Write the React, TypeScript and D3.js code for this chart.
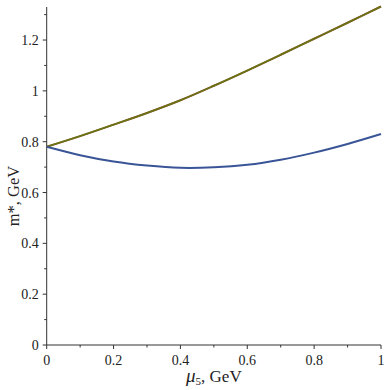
import React from "react";
import * as d3 from "d3";

const width = 390;
const height = 390;

// mu5 values, GeV
const mu5 = [0, 0.1, 0.2, 0.3, 0.4, 0.5, 0.6, 0.7, 0.8, 0.9, 1.0];
// upper branch m*
const upper = [0.78, 0.822, 0.867, 0.913, 0.963, 1.02, 1.08, 1.142, 1.205, 1.268, 1.332];
// lower branch m*
const lower = [0.78, 0.747, 0.722, 0.706, 0.697, 0.699, 0.709, 0.729, 0.757, 0.791, 0.83];

const xTicks = [0, 0.2, 0.4, 0.6, 0.8, 1];
const xMinor = [0.1, 0.3, 0.5, 0.7, 0.9];
const yTicks = [0, 0.2, 0.4, 0.6, 0.8, 1, 1.2];
const yMinor = [0.1, 0.3, 0.5, 0.7, 0.9, 1.1, 1.3];

const margin = { top: 7, right: 9, bottom: 45, left: 46.7 };

const serif = { fontFamily: "'Liberation Serif', 'DejaVu Serif', serif" };

export default function App() {
  const x = d3
    .scaleLinear()
    .domain([0, 1])
    .range([margin.left, width - margin.right]);
  const y = d3
    .scaleLinear()
    .domain([0, 1.33])
    .range([height - margin.bottom, margin.top]);

  const line = (vals: number[]) =>
    d3
      .line<number>()
      .x((d, i) => x(mu5[i]))
      .y((d) => y(d))
      .curve(d3.curveCatmullRom)(vals) || "";

  const axisColor = "#333";

  return (
    <svg
      width={width}
      height={height}
      style={{ position: "absolute", left: 0, top: 0, background: "#fff" }}
    >
      {/* axes */}
      <line x1={x(0)} x2={x(1)} y1={y(0)} y2={y(0)} stroke={axisColor} strokeWidth={1} />
      <line x1={x(0)} x2={x(0)} y1={y(0)} y2={y(1.33)} stroke={axisColor} strokeWidth={1} />

      {xTicks.map((t) => (
        <g key={"x" + t}>
          <line x1={x(t)} x2={x(t)} y1={y(0)} y2={y(0) + 4} stroke={axisColor} />
          <text x={x(t)} y={y(0) + 20} fontSize={14} textAnchor="middle" fill="#222" style={serif}>
            {String(t)}
          </text>
        </g>
      ))}
      {xMinor.map((t) => (
        <line key={"xm" + t} x1={x(t)} x2={x(t)} y1={y(0)} y2={y(0) + 2.5} stroke={axisColor} />
      ))}

      {yTicks.map((t) => (
        <g key={"y" + t}>
          <line x1={x(0) - 4} x2={x(0)} y1={y(t)} y2={y(t)} stroke={axisColor} />
          <text x={x(0) - 8} y={y(t) + 5} fontSize={14} textAnchor="end" fill="#222" style={serif}>
            {String(t)}
          </text>
        </g>
      ))}
      {yMinor.map((t) => (
        <line key={"ym" + t} x1={x(0) - 2.5} x2={x(0)} y1={y(t)} y2={y(t)} stroke={axisColor} />
      ))}

      {/* curves */}
      <path d={line(upper)} fill="none" stroke="#8a3a1e" strokeWidth={2} />
      <path d={line(upper)} fill="none" stroke="#5f8210" strokeWidth={1.6} strokeOpacity={0.85} />
      <path d={line(lower)} fill="none" stroke="#3a5597" strokeWidth={2} />

      {/* axis titles */}
      <text x={x(0.5)} y={382} fontSize={17} textAnchor="middle" fill="#222" style={serif}>
        <tspan fontStyle="italic" fontSize={19}>μ</tspan>
        <tspan fontSize={11} dy={3}>5</tspan>
        <tspan dy={-3}>, GeV</tspan>
      </text>
      <text
        transform="translate(19, 196) rotate(-90)"
        fontSize={16.5}
        textAnchor="middle"
        fill="#222"
        style={serif}
      >
        m*, GeV
      </text>
    </svg>
  );
}
